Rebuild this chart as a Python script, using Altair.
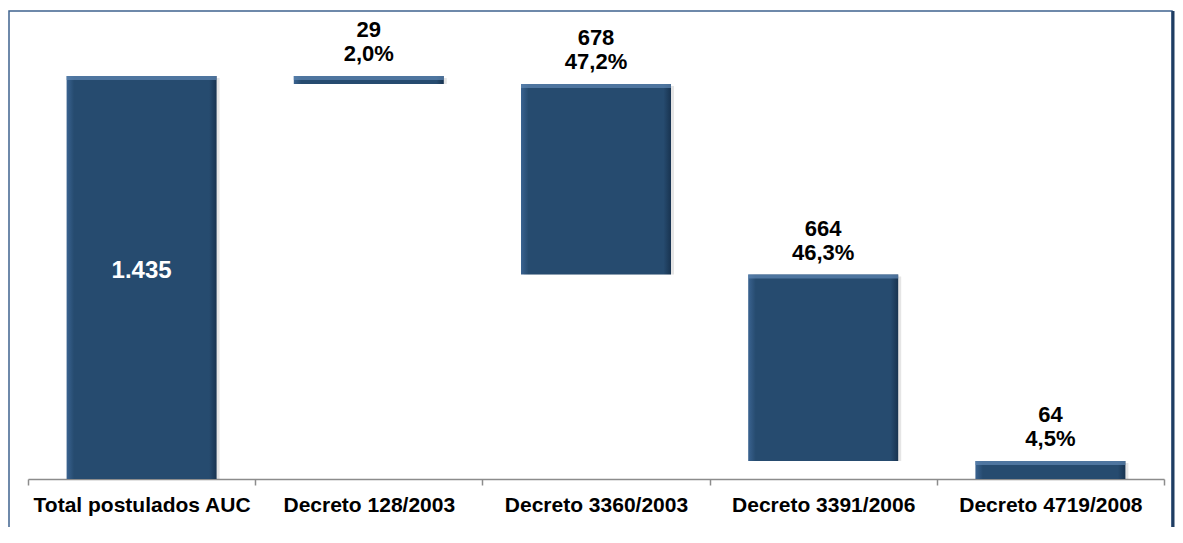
import altair as alt
import pandas as pd

categories = ["Total postulados AUC", "Decreto 128/2003", "Decreto 3360/2003",
              "Decreto 3391/2006", "Decreto 4719/2008"]
values = [1435, 29, 678, 664, 64]
value_labels = ["1.435", "29", "678", "664", "64"]
pct_labels = ["", "2,0%", "47,2%", "46,3%", "4,5%"]

tops, bottoms = [], []
running = values[0]
for i, v in enumerate(values):
    if i == 0:
        tops.append(v)
        bottoms.append(0)
    else:
        tops.append(running)
        bottoms.append(running - v)
        running -= v

df = pd.DataFrame({
    "cat": categories, "top": tops, "bottom": bottoms,
    "val": value_labels, "pct": pct_labels,
    "mid": [(t + b) / 2 for t, b in zip(tops, bottoms)],
})
df_total = df.iloc[:1]
df_dec = df.iloc[1:]

W, H = 1136, 448
FONT = "Arial, Liberation Sans, sans-serif"
BAR_W = 150

x = alt.X("cat:N", sort=categories,
          scale=alt.Scale(paddingInner=0, paddingOuter=0),
          axis=alt.Axis(title=None, labelAngle=0, labelFont=FONT, labelFontSize=21,
                        labelFontWeight="bold", labelColor="#000000", labelLimit=0,
                        domainColor="#8c8c8c", domainWidth=1.5,
                        tickColor="#8c8c8c", tickSize=6, tickWidth=1.5,
                        tickBand="extent", labelPadding=9, grid=False))
yscale = alt.Scale(domain=[0, 1595], nice=False, zero=True)
y = alt.Y("top:Q", scale=yscale, axis=None)

fill = alt.Gradient(
    gradient="linear",
    stops=[alt.GradientStop(color="#3A6390", offset=0),
           alt.GradientStop(color="#264B6F", offset=0.05),
           alt.GradientStop(color="#264B6F", offset=0.95),
           alt.GradientStop(color="#183350", offset=1)],
    x1=0, x2=1, y1=0, y2=0)

base = alt.Chart(df)

shadow = base.mark_bar(width=BAR_W, color="#000000", opacity=0.10, xOffset=3, yOffset=2).encode(
    x=x, y=y, y2="bottom:Q")
bars = base.mark_bar(width=BAR_W, color=fill).encode(x=x, y=y, y2="bottom:Q")
highlight = base.mark_tick(orient="horizontal", size=BAR_W, thickness=4,
                           color="#5F88B3", yOffset=2).encode(x=x, y=y)

val_text = alt.Chart(df_dec).mark_text(font=FONT, fontSize=22, fontWeight="bold",
                                       color="#000000", baseline="alphabetic", dy=-39).encode(
    x=x, y=y, text="val:N")
pct_text = alt.Chart(df_dec).mark_text(font=FONT, fontSize=22, fontWeight="bold",
                                       color="#000000", baseline="alphabetic", dy=-15).encode(
    x=x, y=y, text="pct:N")
total_text = alt.Chart(df_total).mark_text(font=FONT, fontSize=24, fontWeight="bold",
                                           color="#FFFFFF", baseline="alphabetic", dy=1).encode(
    x=x, y=alt.Y("mid:Q", scale=yscale, axis=None), text="val:N")

frame_data = alt.Data(values=[{"k": 1}])
frame = alt.Chart(frame_data).mark_rect(fill="transparent", stroke="#3F638E", strokeWidth=1.5).encode(
    x=alt.value(-19), x2=alt.value(1144), y=alt.value(-20), y2=alt.value(540))
right_edge = alt.Chart(frame_data).mark_rule(color="#1F3D62", strokeWidth=3).encode(
    x=alt.value(1145), y=alt.value(-20), y2=alt.value(540))

chart = alt.layer(shadow, bars, highlight, val_text, pct_text, total_text, frame, right_edge).properties(
    width=W, height=H,
    autosize=alt.AutoSizeParams(type="none"),
    padding={"left": 20, "top": 23, "right": 11, "bottom": 48},
).configure_view(stroke=None)

chart.save("out.html", embed_options={"renderer": "svg", "actions": False})
